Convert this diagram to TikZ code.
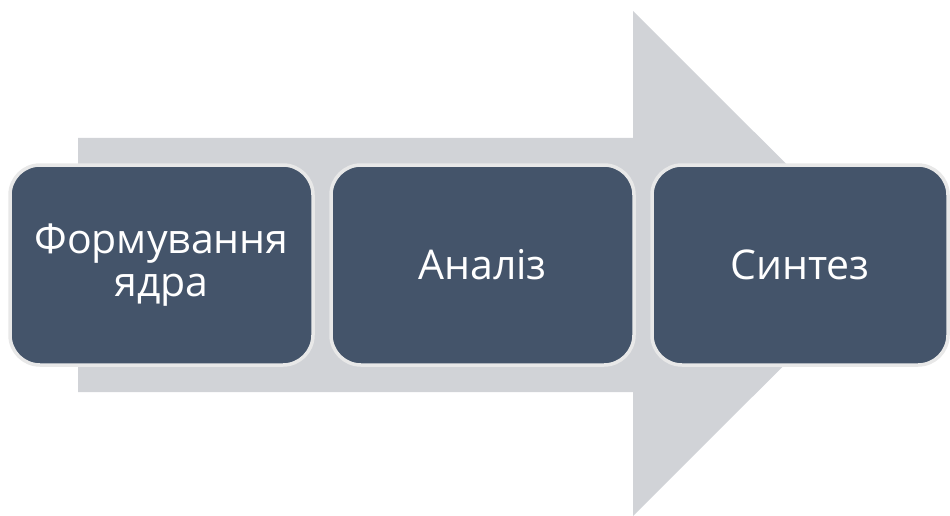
\documentclass[tikz,border=0pt]{standalone}
\usepackage{fontspec}
\setmainfont{Open Sans}
\definecolor{slate}{HTML}{44546A}
\definecolor{arrowgray}{HTML}{D1D3D7}
\definecolor{rimgray}{HTML}{E8E8E8}
\tikzset{
    stagebox/.style={rounded corners=30pt, draw=rimgray, line width=3.5pt,
        fill=slate, text=white, minimum width=303pt, minimum height=200pt,
        align=center, font=\fontsize{41}{43}\selectfont, inner sep=0pt}
}
\begin{document}
\begin{tikzpicture}[x=1pt, y=-1pt]
    \useasboundingbox (0, 0) rectangle (950, 516);
    \fill[arrowgray] (78, 138) -- (633, 138) -- (633, 11) -- (886, 263.5)
        -- (633, 516) -- (633, 392) -- (78, 392) -- cycle;
    \node[stagebox] (core) at (161.5, 265) {Формування\\ядра};
    \node[stagebox] (analysis) at (482.5, 265) {Аналіз};
    \node[stagebox, minimum width=296pt] (synthesis) at (800, 265) {Синтез};
\end{tikzpicture}
\end{document}
